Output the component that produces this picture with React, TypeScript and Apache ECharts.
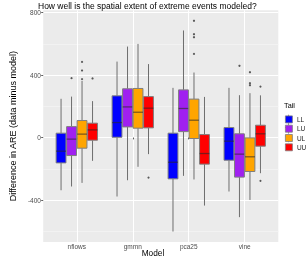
import React, { useEffect, useRef } from "react";
import * as echarts from "echarts";

const models = ["nflows", "gmmn", "pca25", "vine"];
const tails = ["LL", "LU", "UL", "UU"];
const tailColors = ["#0000FF", "#A020F0", "#FFA500", "#FF0000"];

// [lower whisker, Q1, median, Q3, upper whisker] per model
const statsLL = [
  [-337, -162, -87, 28, 248],
  [-377, 2, 96, 267, 486],
  [-601, -264, -158, 28, 318],
  [-345, -145, -23, 64, 318],
];
const statsLU = [
  [-313, -115, -10, 70, 262],
  [-273, 68, 196, 312, 582],
  [-245, 38, 186, 305, 685],
  [-509, -253, -106, 24, 271],
];
const statsUL = [
  [-290, -68, 22, 109, 362],
  [-187, 60, 162, 314, 599],
  [-268, -6, 111, 246, 416],
  [-399, -217, -123, -2, 284],
];
const statsUU = [
  [-149, -17, 49, 92, 233],
  [-106, 62, 188, 262, 470],
  [-435, -170, -102, 19, 260],
  [-228, -55, 24, 79, 270],
];
// outliers: [model index, value]
const outLL: number[][] = [];
const outLU = [
  [0, 380],
  [3, 459],
];
const outUL = [
  [0, 484],
  [0, 429],
  [0, 374],
  [2, 747],
  [2, 661],
  [2, 642],
  [2, 535],
  [3, 418],
  [3, 348],
  [3, 335],
];
const outUU = [
  [0, 378],
  [1, -256],
  [3, 326],
  [3, -277],
];

const yMajor = [-400, 0, 400, 800];
const yMinor = [-600, -200, 200, 600];
const yMin = -668;
const yMax = 814;

const allStats = [statsLL, statsLU, statsUL, statsUU];
const allOut = [outLL, outLU, outUL, outUU];

const FONT = "Liberation Sans, Arial, Helvetica, sans-serif";
const DODGE = 0.1875;
const HALF = 0.088;
const dodge = (k: number) => (k - 1.5) * DODGE;

// legend layout
const LEG_LEFT = 285;
const LEG_TOP = 115.5;
const LEG_KEY = 7;
const LEG_GAP = 1.5;

export default function App() {
  const ref = useRef<HTMLDivElement>(null);
  useEffect(() => {
    if (!ref.current) return;
    const chart = echarts.init(ref.current, null, { renderer: "svg" });
    const boxSeries = tails.map((t, k) => ({
      type: "custom",
      name: t,
      xAxisIndex: 0,
      yAxisIndex: 0,
      itemStyle: { color: tailColors[k] },
      data: allStats[k].map((s, i) => [i + 1, ...s]),
      renderItem: (params: any, api: any) => {
        const x = api.value(0) + dodge(k);
        const pMin = api.coord([x, api.value(1)]);
        const pQ1 = api.coord([x, api.value(2)]);
        const pMed = api.coord([x, api.value(3)]);
        const pQ3 = api.coord([x, api.value(4)]);
        const pMax = api.coord([x, api.value(5)]);
        const l = api.coord([x - HALF, 0])[0];
        const r = api.coord([x + HALF, 0])[0];
        const cx = pMed[0];
        return {
          type: "group",
          children: [
            {
              type: "line",
              shape: { x1: cx, y1: pMax[1], x2: cx, y2: pQ3[1] },
              style: { stroke: "#6e6e6e", lineWidth: 1 },
            },
            {
              type: "line",
              shape: { x1: cx, y1: pQ1[1], x2: cx, y2: pMin[1] },
              style: { stroke: "#6e6e6e", lineWidth: 1 },
            },
            {
              type: "rect",
              shape: { x: l, y: pQ3[1], width: r - l, height: pQ1[1] - pQ3[1] },
              style: { fill: tailColors[k], stroke: "#7f7f7f", lineWidth: 1 },
            },
            {
              type: "line",
              shape: { x1: l, y1: pMed[1], x2: r, y2: pMed[1] },
              style: { stroke: "rgba(40,40,40,0.6)", lineWidth: 1.3 },
            },
          ],
        };
      },
    }));
    const outSeries = tails.map((t, k) => ({
      type: "scatter",
      name: t + " outliers",
      xAxisIndex: 0,
      yAxisIndex: 0,
      symbol: "circle",
      symbolSize: 2.2,
      itemStyle: { color: "#333333" },
      data: allOut[k].map(([m, v]) => [m + 1 + dodge(k), v]),
      z: 5,
    }));
    // small boxplot glyph details on legend keys (whisker + median)
    const legendDecor = tails.map((t, i) => {
      const top = LEG_TOP + i * (LEG_KEY + LEG_GAP);
      const cx = LEG_LEFT + LEG_KEY / 2;
      return {
        type: "group",
        children: [
          {
            type: "line",
            shape: { x1: cx, y1: top - 0.8, x2: cx, y2: top + 1.2 },
            style: { stroke: "#7f7f7f", lineWidth: 0.8 },
          },
          {
            type: "line",
            shape: { x1: cx, y1: top + LEG_KEY - 1.2, x2: cx, y2: top + LEG_KEY + 0.8 },
            style: { stroke: "#7f7f7f", lineWidth: 0.8 },
          },
          {
            type: "line",
            shape: { x1: LEG_LEFT, y1: top + LEG_KEY / 2, x2: LEG_LEFT + LEG_KEY, y2: top + LEG_KEY / 2 },
            style: { stroke: "rgba(40,40,40,0.55)", lineWidth: 0.9 },
          },
        ],
        z: 100,
      };
    });
    chart.setOption({
      animation: false,
      textStyle: { fontFamily: FONT },
      title: [
        {
          text: "How well is the spatial extent of extreme events modeled?",
          left: 38,
          top: 1,
          padding: 0,
          textStyle: { fontSize: 8.5, fontWeight: "normal", color: "#000", fontFamily: FONT },
        },
        {
          text: "Model",
          left: "center",
          top: 249,
          padding: 0,
          textStyle: { fontSize: 8.3, fontWeight: "normal", color: "#000", fontFamily: FONT },
        },
        {
          text: "Tail",
          left: 284,
          top: 102,
          padding: 0,
          textStyle: { fontSize: 7.3, fontWeight: "normal", color: "#000", fontFamily: FONT },
        },
      ],
      legend: {
        data: tails,
        orient: "vertical",
        left: LEG_LEFT,
        top: LEG_TOP,
        padding: 0,
        itemWidth: LEG_KEY,
        itemHeight: LEG_KEY,
        itemGap: LEG_GAP,
        icon: "rect",
        selectedMode: false,
        itemStyle: { borderColor: "#7f7f7f", borderWidth: 0.8 },
        textStyle: { fontSize: 6.5, color: "#1a1a1a", fontFamily: FONT, padding: [0, 0, 0, -0.5] },
      },
      graphic: legendDecor,
      grid: {
        left: 27.7,
        right: 27.7,
        top: 10.3,
        bottom: 17,
        show: true,
        backgroundColor: "#EBEBEB",
        borderWidth: 0,
      },
      xAxis: {
        type: "value",
        min: 0.4,
        max: 4.6,
        axisLine: { show: false },
        axisTick: {
          show: true,
          customValues: [1, 2, 3, 4],
          length: 1.8,
          lineStyle: { color: "#333333", width: 0.8 },
        },
        axisLabel: {
          customValues: [1, 2, 3, 4],
          formatter: (v: number) => models[Math.round(v) - 1] ?? "",
          fontSize: 6.5,
          color: "#4D4D4D",
          margin: 0.5,
          fontFamily: FONT,
        },
        splitLine: { show: true, lineStyle: { color: "#FFFFFF", width: 1 } },
      },
      yAxis: [
        {
          type: "value",
          min: yMin,
          max: yMax,
          axisLine: { show: false },
          axisTick: {
            show: true,
            customValues: yMajor,
            length: 2,
            lineStyle: { color: "#333333", width: 0.8 },
          },
          axisLabel: {
            customValues: yMajor,
            fontSize: 6.5,
            color: "#4D4D4D",
            margin: 2.3,
            fontFamily: FONT,
          },
          splitLine: { show: true, lineStyle: { color: "#FFFFFF", width: 1 } },
          name: "Difference in ARE (data minus model)",
          nameLocation: "middle",
          nameRotate: 90,
          nameGap: 18,
          nameTextStyle: { fontSize: 9, color: "#000", fontFamily: FONT },
        },
        {
          type: "value",
          min: yMin,
          max: yMax,
          position: "left",
          axisLine: { show: false },
          axisTick: { show: false, customValues: yMinor },
          axisLabel: { show: false, customValues: yMinor },
          splitLine: { show: true, lineStyle: { color: "#F4F4F4", width: 0.8 } },
        },
      ],
      series: [...boxSeries, ...outSeries],
    });
    return () => chart.dispose();
  }, []);
  return (
    <div
      ref={ref}
      style={{ position: "fixed", left: 0, top: 0, width: 306, height: 259 }}
    />
  );
}
